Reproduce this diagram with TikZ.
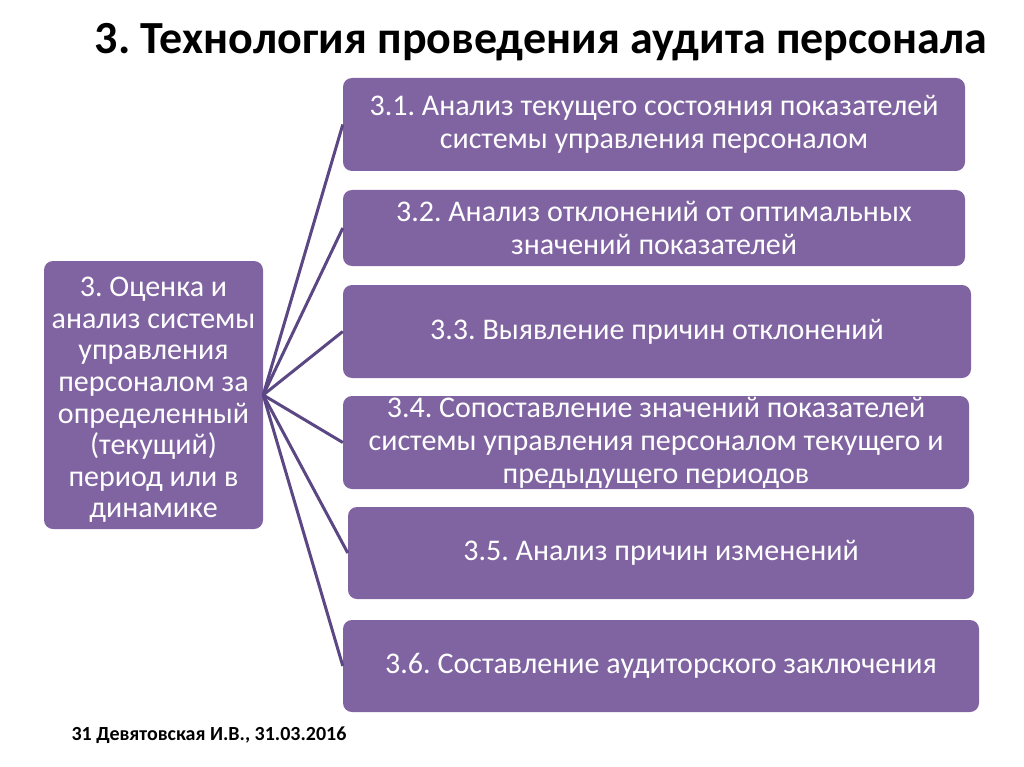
\documentclass[tikz,border=0pt]{standalone}
\usepackage{fontspec}
\setmainfont{Carlito}
\frenchspacing
\definecolor{boxfill}{HTML}{8064A2}
\definecolor{boxline}{HTML}{5B4783}
\begin{document}
\begin{tikzpicture}[x=1pt,y=-1pt,
  box/.style={fill=boxfill, draw=none, rounded corners=9pt, text=white, align=center,
    font=\fontsize{30}{33}\selectfont, inner sep=0pt},
  link/.style={draw=boxline, line width=3pt}]
\useasboundingbox (0,0) rectangle (1024,767);
\node[font=\bfseries\fontsize{46}{50}\selectfont] (title) at (541,42) {3. Технология проведения аудита персонала};
\node[box, minimum width=219pt, minimum height=268pt] (root) at (153.5,395) {};
\node[text=white, align=center, inner sep=0pt, font=\fontsize{30}{31.6}\selectfont] (roottext) at (153.5,400)
  {3. Оценка и\\анализ системы\\управления\\персоналом за\\определенный\\(текущий)\\период или в\\динамике};
\node[box, minimum width=622pt, minimum height=93pt] (b1) at (654,124.5)
  {3.1. Анализ текущего состояния показателей\\системы управления персоналом};
\node[box, minimum width=622pt, minimum height=76pt] (b2) at (654,228)
  {3.2. Анализ отклонений от оптимальных\\значений показателей};
\node[box, minimum width=628pt, minimum height=93pt] (b3) at (657,331.5)
  {3.3. Выявление причин отклонений};
\node[box, minimum width=626pt, minimum height=93pt] (b4) at (656,442.5)
  {3.4. Сопоставление значений показателей\\системы управления персоналом текущего и\\предыдущего периодов};
\node[box, minimum width=626pt, minimum height=92pt] (b5) at (661,553)
  {3.5. Анализ причин изменений};
\node[box, minimum width=636pt, minimum height=92pt] (b6) at (661,666)
  {3.6. Составление аудиторского заключения};
\node[font=\bfseries\fontsize{20}{22}\selectfont, anchor=west] (foot) at (68,735) {31 Девятовская И.В., 31.03.2016};
\foreach \b in {b1,b2,b3,b4,b5,b6}
  \draw[link] (root.east) -- (\b.west);
\end{tikzpicture}
\end{document}
